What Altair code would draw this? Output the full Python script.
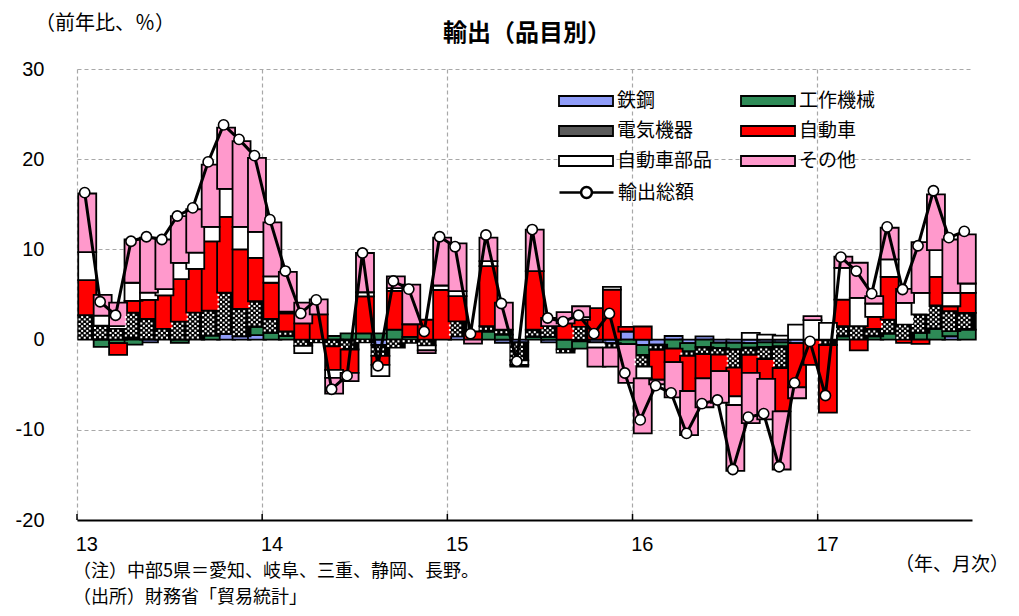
import altair as alt
import pandas as pd

# ---- categories ----
months = [f"{y}-{m:02d}" for y in range(2013, 2018) for m in range(1, 13)][:58]
jan = [m for m in months if m.endswith("-01")]
cats = ["鉄鋼", "工作機械", "電気機器", "自動車", "自動車部品", "その他"]
colors = ["#8f9cf8", "#2e8b57", "#5a5a5a", "#ff0000", "#ffffff", "#ff99cc"]

# ---- series (contribution, % pt) ----
iron = [0, 0, 0, 0.2, -0.3, 0, 0, 0, 0, 0.6, 0.35, 0.5,
        0, 0, 0, 0, 0, 0, 0, -0.6, 0, 0, 0, 0,
        0.35, 0, 0, -0.35, -0.3, 0, -0.3, 0, -0.2, -0.3, -0.4, 0.9,
        -0.6, -0.55, 0.4, -0.4, 0.35, -0.35, -0.35, -0.4, -0.3, -0.3, -0.4, 0,
        0, 0, 0, 0, 0, 0, 0, 0, 0.37, 0]
machine = [0, -0.8, -0.4, -0.55, 0, 0, -0.35, 0, 0.45, 0, 0, 0.9,
           0.74, 0.4, 0, 0, 0.4, 0.7, 0.7, 0.7, 1.1, 0.3, 0, 0,
           0, 0, 0.9, 0.55, 0, 0.3, 0.3, -1.1, -0.8, 0, 0, -0.5,
           -1.1, 0, -1.0, -0.9, -0.85, -0.6, -0.75, -0.5, -0.5, -0.45, 0, 0,
           0, 0.37, 0, 0.37, 0.67, 0, 0.74, 1.19, 0.56, 1.11]
electric = [2.7, 1.55, 1.2, 2.8, 2.3, 1.2, 2.0, 3.0, 2.75, 4.6, 3.05, 2.85,
            1.56, 0.5, -0.7, -0.3, -0.75, -1.1, -0.3, -1.2, -0.9, -0.35, -0.65, 0,
            1.67, 0, 0.6, 0.55, -2.0, 0.8, 1.2, -0.35, 1.4, 0, -0.5, 0,
            -1.3, -0.6, 0, -0.5, -0.75, -0.7, -2.0, -0.8, -1.35, -2.4, 0, 0,
            -0.6, 1.11, 1.48, 0.82, 1.55, 1.67, 2.04, 2.59, 2.22, 1.85]
auto = [3.9, 0, -1.3, 1.3, 2.1, 3.7, 4.7, 4.85, 7.7, 8.4, 6.6, 4.8,
        4.0, 2.0, 1.8, 2.8, -2.6, -2.6, 4.1, -1.0, 4.3, 1.4, 2.2, 5.5,
        2.8, 0.9, 6.65, 0, 0, 6.5, 0, 1.8, 0.8, 3.5, 5.55, 0.5,
        1.45, -3.3, -1.5, -3.9, -2.7, -1.85, -3.2, -2.0, -2.2, -4.8, -4.9, -2.8,
        -7.5, 2.96, -1.19, 1.33, 4.74, -0.37, -0.48, 3.18, 0.55, 2.23]
parts = [3.1, 1.1, 0.3, 2.0, 0.8, 0.7, 1.8, 1.8, 1.6, 3.1, 2.5, 2.9,
         0.7, 0.2, -0.8, 0, -0.9, 0, 0.45, -1.25, 0.3, 0, -0.55, 0.5,
         0.55, 0, 0.55, 0, -0.5, 0, 0, 0, 0.3, -0.6, 0.3, 0,
         -1.3, 0, 0, 0, 0, 0, -0.95, 0.75, 0.55, 0.45, 1.67, 2.15,
         1.85, 3.52, 3.15, 1.48, 1.93, 2.4, 2.41, 2.97, 1.49, 1.03]
other = [6.5, 2.3, 2.6, 4.8, 6.1, 5.5, 5.2, 4.8, 6.9, 6.8, 9.5, 8.2,
         6.0, 4.4, 2.3, 1.65, -1.75, -0.9, 4.35, 0, 1.3, 4.4, -0.3, 5.3,
         5.3, -0.45, 2.6, 3.0, -0.2, 4.6, 0.9, 1.25, 1.2, -2.1, -2.1, -4.3,
         -6.1, -0.5, -3.9, -4.9, -3.2, -3.5, -7.3, -5.56, -4.5, -6.45, -1.2, 0.45,
         0, 1.23, 3.89, 0.81, 3.51, 1.56, 5.61, 6.17, 5.91, 5.45]
total = [16.3, 4.2, 2.7, 10.9, 11.4, 11.1, 13.7, 14.6, 19.7, 23.8, 22.2, 20.4,
         13.3, 7.6, 2.9, 4.4, -5.5, -4.0, 9.6, -2.9, 6.5, 5.6, 0.9, 11.4,
         10.3, 0.65, 11.6, 4.0, -2.4, 12.2, 2.4, 2.0, 2.7, 0.67, 2.9, -3.7,
         -8.9, -5.1, -5.9, -10.4, -7.1, -6.7, -14.4, -8.6, -8.2, -14.1, -4.8, -0.2,
         -6.2, 9.15, 7.6, 5.1, 12.5, 5.55, 10.4, 16.5, 11.3, 12.0]

series = [iron, machine, electric, auto, parts, other]
rows = []
for ci, (c, s) in enumerate(zip(cats, series)):
    for m, v in zip(months, s):
        if v != 0:
            rows.append({"m": m, "cat": c, "v": v, "o": ci})
df = pd.DataFrame(rows)
tot = pd.DataFrame({"m": months, "v": total, "k": ["輸出総額"] * len(months)})
jdf = pd.DataFrame({"m": jan})

W, H = 895, 451
YMIN, YMAX = -20, 30
JP = "Noto Sans CJK JP"
NUM = "Liberation Sans"
GRID = "#a8a8a8"

# ---- dot texture for the 電気機器 segments (derived from the stacked values) ----
px_per_unit = H / (YMAX - YMIN)
step = 2.3 / px_per_unit
dots = []
for i, m in enumerate(months):
    e = electric[i]
    if e == 0:
        continue
    below = [s[i] for s in (iron, machine)]
    if e > 0:
        a = sum(v for v in below if v > 0)
        b = a + e
    else:
        b = sum(v for v in below if v < 0)
        a = b + e
    h = b - a
    n = max(1, int((h - 0.12) / step))
    start = a + (h - (n - 1) * step) / 2
    for k in range(n):
        yk = start + k * step
        for c in ([1, 3, 5] if k % 2 == 0 else [2, 4]):
            dots.append({"m": m, "y": yk, "c": c})
ddf = pd.DataFrame(dots)

xscale = alt.Scale(domain=months, paddingInner=0, paddingOuter=0)
yscale = alt.Scale(domain=[YMIN, YMAX], nice=False, zero=False)

xaxis = alt.Axis(values=jan, bandPosition=0, labelExpr="substring(datum.value, 2, 4)",
                 labelAngle=0, labelAlign="left", labelBaseline="top", labelOffset=-9,
                 labelFont=NUM, labelFontSize=20, labelColor="black", labelPadding=14,
                 ticks=False, tickSize=0, domainColor="black", domainWidth=2,
                 grid=True, gridDash=[4, 3], gridColor=GRID, gridWidth=1.2, title=None)
yaxis = alt.Axis(values=[-20, -10, 0, 10, 20, 30], labelExpr="'' + datum.value",
                 labelFont=NUM, labelFontSize=20,
                 labelColor="black", labelPadding=33, ticks=False, tickSize=0, domain=False,
                 grid=True, gridDash=[4, 3], gridColor=GRID, gridWidth=1.2,
                 gridOpacity={"condition": {"test": "datum.value == 0 || datum.value == -20", "value": 0}, "value": 1},
                 title=None)

# legend symbols: a wide shape drawn past the unit square so the rows stay compact
SYM = 467
rect_path = "M-2.5,-0.463H2.5V0.463H-2.5Z"
line_path = "M-2.5,0H-0.5M0.5,0H2.5M0.5,0A0.5,0.5,0,1,1,-0.5,0A0.5,0.5,0,1,1,0.5,0"
LX = 497

fill_field = alt.Fill("cat:N", scale=alt.Scale(domain=cats, range=colors),
                      legend=alt.Legend(orient="none", legendX=LX, legendY=20, columns=2,
                                        direction="horizontal",
                                        title=None, symbolType=rect_path,
                                        symbolSize=SYM, symbolStrokeColor="black",
                                        symbolStrokeWidth=1.8, symbolOpacity=1,
                                        labelFont=JP, labelFontSize=19, labelColor="black",
                                        labelOffset=19, rowPadding=8, columnPadding=24,
                                        labelLimit=0))

bars = alt.Chart(df).mark_bar(width=alt.RelativeBandSize(0.84), stroke="black", strokeWidth=1.8).encode(
    x=alt.X("m:O", scale=xscale, axis=xaxis),
    y=alt.Y("v:Q", stack="zero", scale=yscale, axis=yaxis),
    fill=alt.condition(alt.datum.cat == "電気機器", alt.value("black"), fill_field),
    order=alt.Order("o:Q"),
)

texture = alt.Chart(ddf).mark_square(size=4, color="white", opacity=1, strokeWidth=0).encode(
    x=alt.X("m:O", scale=xscale),
    xOffset=alt.XOffset("c:O", scale=alt.Scale(domain=list(range(7)), paddingInner=0, paddingOuter=0)),
    y=alt.Y("y:Q", scale=yscale),
)

line = alt.Chart(tot).mark_line(strokeWidth=3).encode(
    x=alt.X("m:O", scale=xscale),
    y=alt.Y("v:Q", scale=yscale),
    stroke=alt.Stroke("k:N", scale=alt.Scale(range=["black"]),
                      legend=alt.Legend(orient="none", legendX=LX, legendY=111, title=None,
                                        symbolType=line_path, symbolSize=SYM,
                                        symbolStrokeWidth=2.5, symbolStrokeColor="black",
                                        symbolFillColor="white",
                                        labelFont=JP, labelFontSize=19, labelColor="black",
                                        labelOffset=19, labelLimit=0)),
)
pts = alt.Chart(tot).mark_point(shape="circle", filled=True, fill="white", stroke="black",
                                strokeWidth=1.6, size=105, opacity=1, fillOpacity=1).encode(
    x=alt.X("m:O", scale=xscale),
    y=alt.Y("v:Q", scale=yscale),
)

ticks = alt.Chart(jdf).mark_rule(color="black", strokeWidth=1.5).encode(
    x=alt.X("m:O", scale=xscale, bandPosition=0),
    y=alt.value(H),
    y2=alt.value(H - 6),
)


def label(text, x, y, size=19, align="left", weight="normal"):
    return alt.Chart(pd.DataFrame({"t": [text]})).mark_text(
        font=JP, fontSize=size, align=align, baseline="middle", color="black", fontWeight=weight
    ).encode(x=alt.value(x), y=alt.value(y), text="t:N")


texts = [
    label("（前年比、％）", -42, -45, size=20),
    label("輸出（品目別）", 450, -35, size=24, align="center", weight="bold"),
    label("（年、月次）", 932, 496, align="right"),
    label("（注）中部5県＝愛知、岐阜、三重、静岡、長野。", -4, 503, size=18),
    label("（出所）財務省「貿易統計」", -4, 529, size=18),
]

chart = alt.layer(bars, texture, ticks, line, pts, *texts).properties(
    width=W, height=H,
    padding={"left": 69, "top": 61, "right": 39, "bottom": 88},
    autosize=alt.AutoSizeParams(type="none"),
    background="white",
).configure_view(stroke=None).resolve_scale(fill="independent", stroke="independent")

chart.save("out.html", embed_options={"renderer": "svg", "actions": False})
